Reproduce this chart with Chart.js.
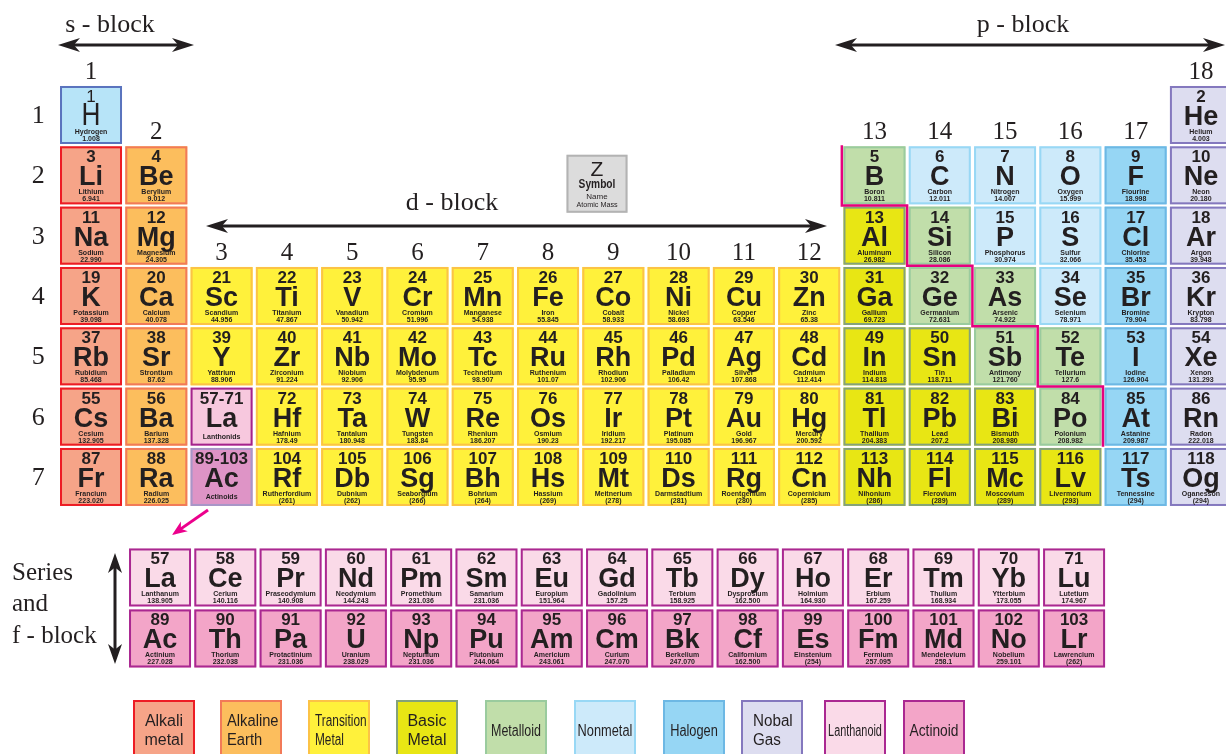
<!DOCTYPE html>
<html>
<head>
<meta charset="utf-8">
<title>Periodic Table of the Elements</title>
<script src="https://cdn.jsdelivr.net/npm/chart.js@4.4.1/dist/chart.umd.min.js"></script>
<style>
  html, body { margin:0; padding:0; background:#fff; }
  #wrap { width:1226px; height:754px; position:relative; overflow:hidden; }
</style>
</head>
<body>
<div id="wrap"><canvas id="pt" width="1226" height="754"></canvas></div>
<script>
// ── Data: main table (periods 1-7) ────────────────────────────────
const zLabels = ["1","2",
  "3","4","5","6","7","8","9","10",
  "11","12","13","14","15","16","17","18",
  "19","20","21","22","23","24","25","26","27","28","29","30","31","32","33","34","35","36",
  "37","38","39","40","41","42","43","44","45","46","47","48","49","50","51","52","53","54",
  "55","56","57-71","72","73","74","75","76","77","78","79","80","81","82","83","84","85","86",
  "87","88","89-103","104","105","106","107","108","109","110","111","112","113","114","115","116","117","118"];

const symbols = ["H","He",
  "Li","Be","B","C","N","O","F","Ne",
  "Na","Mg","Al","Si","P","S","Cl","Ar",
  "K","Ca","Sc","Ti","V","Cr","Mn","Fe","Co","Ni","Cu","Zn","Ga","Ge","As","Se","Br","Kr",
  "Rb","Sr","Y","Zr","Nb","Mo","Tc","Ru","Rh","Pd","Ag","Cd","In","Sn","Sb","Te","I","Xe",
  "Cs","Ba","La","Hf","Ta","W","Re","Os","Ir","Pt","Au","Hg","Tl","Pb","Bi","Po","At","Rn",
  "Fr","Ra","Ac","Rf","Db","Sg","Bh","Hs","Mt","Ds","Rg","Cn","Nh","Fl","Mc","Lv","Ts","Og"];

const names = ["Hydrogen","Helium",
  "Lithium","Berylium","Boron","Carbon","Nitrogen","Oxygen","Flourine","Neon",
  "Sodium","Magnesium","Aluminum","Silicon","Phosphorus","Sulfur","Chlorine","Argon",
  "Potassium","Calcium","Scandium","Titanium","Vanadium","Cromium","Manganese","Iron","Cobalt","Nickel","Copper","Zinc","Gallium","Germanium","Arsenic","Selenium","Bromine","Krypton",
  "Rubidium","Strontium","Yattrium","Zirconium","Niobium","Molybdenum","Technetium","Ruthenium","Rhodium","Palladium","Silver","Cadmium","Indium","Tin","Antimony","Tellurium","Iodine","Xenon",
  "Cesium","Barium","Lanthonids","Hafnium","Tantalum","Tungsten","Rhenium","Osmium","Iridium","Platinum","Gold","Mercury","Thallium","Lead","Bismuth","Polonium","Astanine","Radon",
  "Francium","Radium","Actinoids","Rutherfordium","Dubnium","Seaborgium","Bohrium","Hassium","Meitnerium","Darmstadtium","Roentgenium","Copernicium","Nihonium","Flerovium","Moscovium","Livermorium","Tennessine","Oganesson"];

const masses = ["1.008","4.003",
  "6.941","9.012","10.811","12.011","14.007","15.999","18.998","20.180",
  "22.990","24.305","26.982","28.086","30.974","32.066","35.453","39.948",
  "39.098","40.078","44.956","47.867","50.942","51.996","54.938","55.845","58.933","58.693","63.546","65.38","69.723","72.631","74.922","78.971","79.904","83.798",
  "85.468","87.62","88.906","91.224","92.906","95.95","98.907","101.07","102.906","106.42","107.868","112.414","114.818","118.711","121.760","127.6","126.904","131.293",
  "132.905","137.328","","178.49","180.948","183.84","186.207","190.23","192.217","195.085","196.967","200.592","204.383","207.2","208.980","208.982","209.987","222.018",
  "223.020","226.025","","(261)","(262)","(266)","(264)","(269)","(278)","(281)","(280)","(285)","(286)","(289)","(289)","(293)","(294)","(294)"];

const groups = [1,18,
  1,2,13,14,15,16,17,18,
  1,2,13,14,15,16,17,18,
  1,2,3,4,5,6,7,8,9,10,11,12,13,14,15,16,17,18,
  1,2,3,4,5,6,7,8,9,10,11,12,13,14,15,16,17,18,
  1,2,3,4,5,6,7,8,9,10,11,12,13,14,15,16,17,18,
  1,2,3,4,5,6,7,8,9,10,11,12,13,14,15,16,17,18];

const periods = [1,1,
  2,2,2,2,2,2,2,2,
  3,3,3,3,3,3,3,3,
  4,4,4,4,4,4,4,4,4,4,4,4,4,4,4,4,4,4,
  5,5,5,5,5,5,5,5,5,5,5,5,5,5,5,5,5,5,
  6,6,6,6,6,6,6,6,6,6,6,6,6,6,6,6,6,6,
  7,7,7,7,7,7,7,7,7,7,7,7,7,7,7,7,7,7];

// hy hydrogen, al alkali, ae alkaline earth, tm transition, bm basic metal,
// md metalloid, nm nonmetal, ha halogen, ng noble gas, lk/ak f-block keys
const kinds = ["hy","ng",
  "al","ae","md","nm","nm","nm","ha","ng",
  "al","ae","bm","md","nm","nm","ha","ng",
  "al","ae","tm","tm","tm","tm","tm","tm","tm","tm","tm","tm","bm","md","md","nm","ha","ng",
  "al","ae","tm","tm","tm","tm","tm","tm","tm","tm","tm","tm","bm","bm","md","md","ha","ng",
  "al","ae","lk","tm","tm","tm","tm","tm","tm","tm","tm","tm","bm","bm","bm","md","ha","ng",
  "al","ae","ak","tm","tm","tm","tm","tm","tm","tm","tm","tm","bm","bm","bm","bm","ha","ng"];

// ── Data: f-block series ──────────────────────────────────────────
const lnZ = ["57","58","59","60","61","62","63","64","65","66","67","68","69","70","71"];
const lnSymbols = ["La","Ce","Pr","Nd","Pm","Sm","Eu","Gd","Tb","Dy","Ho","Er","Tm","Yb","Lu"];
const lnNames = ["Lanthanum","Cerium","Praseodymium","Neodymium","Promethium","Samarium","Europium","Gadolinium","Terbium","Dysprosium","Holmium","Erbium","Thulium","Ytterbium","Lutetium"];
const lnMasses = ["138.905","140.116","140.908","144.243","231.036","231.036","151.964","157.25","158.925","162.500","164.930","167.259","168.934","173.055","174.967"];

const anZ = ["89","90","91","92","93","94","95","96","97","98","99","100","101","102","103"];
const anSymbols = ["Ac","Th","Pa","U","Np","Pu","Am","Cm","Bk","Cf","Es","Fm","Md","No","Lr"];
const anNames = ["Actinium","Thorium","Protactinium","Uranium","Neptunium","Plutonium","Americium","Curium","Berkelium","Californium","Einstenium","Fermium","Mendelevium","Nobelium","Lawrencium"];
const anMasses = ["227.028","232.038","231.036","238.029","231.036","244.064","243.061","247.070","247.070","162.500","(254)","257.095","258.1","259.101","(262)"];

// ── Data: axis labels and legend ─────────────────────────────────
const groupLabels  = ["1","2","3","4","5","6","7","8","9","10","11","12","13","14","15","16","17","18"];
const periodLabels = ["1","2","3","4","5","6","7"];
const legendKinds  = ["al","ae","tm","bm","md","nm","ha","ng","ln","an"];
const legendLabels = [["Alkali","metal"],["Alkaline","Earth"],["Transition","Metal"],["Basic","Metal"],["Metalloid"],["Nonmetal"],["Halogen"],["Nobal","Gas"],["Lanthanoid"],["Actinoid"]];

// ── Style / layout ───────────────────────────────────────────────
const INK = "#231F20";
const SANS = "'Liberation Sans', Arial, sans-serif";
const SERIF = "'Liberation Serif', 'Times New Roman', serif";
const PALETTE = {            // [fill, border]
  hy: ["#B7E4F8", "#5A73BE"],
  al: ["#F6A488", "#ED1C24"],
  ae: ["#FCBE5D", "#F27A58"],
  tm: ["#FFF13B", "#FCC346"],
  bm: ["#E8E614", "#84A27A"],
  md: ["#C1DEAA", "#9ACB9E"],
  nm: ["#CDEAFA", "#98D8F5"],
  ha: ["#96D6F4", "#6DB8E4"],
  ng: ["#DDDDF0", "#8478BE"],
  ln: ["#FADAE8", "#AA2891"],
  an: ["#F3A5C8", "#AA2891"],
  lk: ["#F7C8DE", "#A5238C"],
  ak: ["#DE94C6", "#A896C8"],
  key: ["#DCDCDC", "#B3B3B3"],
};
const CELL_W = 62, CELL_H = 58;
const X_MIN = -0.394, X_MAX = 18.384;   // column pitch ~65px
const Y_MIN = -0.906, Y_MAX = 11.592;   // row pitch ~60px
const F_COL0 = 2.057, LN_ROW = 8.666, AN_ROW = 9.677;
const KEY_X = 8.75, KEY_Y = 2.14;
const STAIR = [[12.5,1.5],[12.5,2.5],[13.5,2.5],[13.5,3.5],[14.5,3.5],[14.5,4.5],[15.5,4.5],[15.5,5.5],[16.5,5.5],[16.5,6.5]];
const LEGEND_LEFT = [133,220,308,396,485,574,663,741,824,903];
const LEGEND_TOP = 700;
const LEGEND_ALIGN = ["center","left","left","center","center","center","center","left","center","center"];
const LEGEND_SQUEEZE = [1,0.92,0.74,1,0.78,0.8,0.8,0.95,0.68,0.86];


// ── Drawing helpers ──────────────────────────────────────────────
function text(ctx, s, x, y, font, align = "center", squeeze = 1) {
  ctx.font = font;
  ctx.textAlign = align;
  if (squeeze !== 1) ctx.fillText(s, x, y, ctx.measureText(s).width * squeeze);
  else ctx.fillText(s, x, y);
}

function box(ctx, cx, cy, w, h, kind) {
  const [fill, stroke] = PALETTE[kind];
  ctx.fillStyle = fill;
  ctx.fillRect(cx - w / 2, cy - h / 2, w, h);
  ctx.strokeStyle = stroke;
  ctx.lineWidth = 2;
  ctx.strokeRect(cx - w / 2 + 1, cy - h / 2 + 1, w - 2, h - 2);
}

function drawCell(ctx, cx, cy, z, sym, name, mass, kind) {
  box(ctx, cx, cy, CELL_W, CELL_H, kind);
  const t = cy - CELL_H / 2;
  ctx.fillStyle = INK;
  ctx.textBaseline = "alphabetic";
  if (kind === "hy") {
    text(ctx, z, cx, t + 16, `17px ${SANS}`);
    text(ctx, sym, cx, t + 39, `32px ${SANS}`, "center", 0.82);
  } else {
    text(ctx, z, cx, t + 16, `bold 17px ${SANS}`);
    text(ctx, sym, cx, t + 39, `bold 27px ${SANS}`);
  }
  if (kind === "lk" || kind === "ak") {
    text(ctx, name, cx, t + 51, `bold 7px ${SANS}`);
  } else {
    text(ctx, name, cx, t + 48, `bold 7px ${SANS}`);
    text(ctx, mass, cx, t + 55, `bold 7px ${SANS}`);
  }
}

function head(ctx, x, y, ang, len, half) {
  ctx.save();
  ctx.translate(x, y);
  ctx.rotate(ang);
  ctx.beginPath();
  ctx.moveTo(0, 0);
  ctx.lineTo(-len, -half);
  ctx.lineTo(-len * 0.72, 0);
  ctx.lineTo(-len, half);
  ctx.closePath();
  ctx.fill();
  ctx.restore();
}

function arrow(ctx, x1, y1, x2, y2, both, color, lw = 3, len = 22, half = 7) {
  const ang = Math.atan2(y2 - y1, x2 - x1);
  const dx = Math.cos(ang) * len * 0.6, dy = Math.sin(ang) * len * 0.6;
  ctx.strokeStyle = color;
  ctx.fillStyle = color;
  ctx.lineWidth = lw;
  ctx.beginPath();
  ctx.moveTo(both ? x1 + dx : x1, both ? y1 + dy : y1);
  ctx.lineTo(x2 - dx, y2 - dy);
  ctx.stroke();
  head(ctx, x2, y2, ang, len, half);
  if (both) head(ctx, x1, y1, ang + Math.PI, len, half);
}


// ── Plugin: renders cells, labels and decorations ────────────────
const tablePlugin = {
  id: "periodicTable",
  afterDatasetsDraw(chart) {
    const ctx = chart.ctx;
    const xs = chart.scales.x, ys = chart.scales.y;
    ctx.save();
    ctx.fillStyle = INK;
    ctx.textBaseline = "alphabetic";

    // Group numbers above the topmost cell in each column
    groupLabels.forEach((lbl, gi) => {
      const g = gi + 1;
      const top = Math.min(...periods.filter((p, i) => groups[i] === g));
      const y = ys.getPixelForValue(top) - CELL_H / 2 - 7;
      ctx.fillStyle = INK;
      text(ctx, lbl, xs.getPixelForValue(g), y, `25px ${SERIF}`);
    });

    // Period numbers on the left
    periodLabels.forEach((lbl, pi) => {
      ctx.fillStyle = INK;
      text(ctx, lbl, xs.getPixelForValue(0.19), ys.getPixelForValue(pi + 1) + 8, `26px ${SERIF}`);
    });

    // Cells
    chart.data.datasets.forEach((ds, di) => {
      const meta = chart.getDatasetMeta(di);
      meta.data.forEach((pt, i) => {
        drawCell(ctx, pt.x, pt.y, ds.z[i], ds.sym[i], ds.names[i], ds.mass[i], ds.kinds[i]);
      });
    });

    // Metal / nonmetal staircase
    ctx.strokeStyle = "#E6007E";
    ctx.lineWidth = 2.5;
    ctx.beginPath();
    STAIR.forEach(([x, y], i) => {
      const px = xs.getPixelForValue(x), py = ys.getPixelForValue(y);
      i ? ctx.lineTo(px, py) : ctx.moveTo(px, py);
    });
    ctx.stroke();

    // Key cell
    const kx = xs.getPixelForValue(KEY_X), ky = ys.getPixelForValue(KEY_Y);
    box(ctx, kx, ky, 61, 58, "key");
    ctx.fillStyle = INK;
    const kt = ky - 29;
    text(ctx, "Z", kx, kt + 21, `21px ${SANS}`);
    text(ctx, "Symbol", kx, kt + 33, `bold 12px ${SANS}`, "center", 0.85);
    text(ctx, "Name", kx, kt + 44, `8px ${SANS}`);
    text(ctx, "Atomic Mass", kx, kt + 52, `8px ${SANS}`, "center", 0.9);

    // Block labels and arrows
    ctx.fillStyle = INK;
    text(ctx, "s - block", 110, 32, `26px ${SERIF}`);
    arrow(ctx, 58, 45, 194, 45, true, INK);
    text(ctx, "p - block", 1023, 32, `26px ${SERIF}`);
    arrow(ctx, 835, 45, 1225, 45, true, INK);
    ctx.fillStyle = INK;
    text(ctx, "d - block", 452, 210, `26px ${SERIF}`);
    arrow(ctx, 206, 226, 827, 226, true, INK);

    // f-block caption
    ctx.fillStyle = INK;
    text(ctx, "Series", 12, 580, `25px ${SERIF}`, "left");
    text(ctx, "and", 12, 611, `25px ${SERIF}`, "left");
    text(ctx, "f - block", 12, 643, `25px ${SERIF}`, "left");
    arrow(ctx, 115, 553, 115, 664, true, INK, 3, 20, 7);

    // Pointer from the Ac key to the series rows
    arrow(ctx, 208, 510, 172, 535, false, "#EC008C", 3, 15, 6);

    // Legend
    legendKinds.forEach((k, i) => {
      const l = LEGEND_LEFT[i];
      box(ctx, l + 31, LEGEND_TOP + 30, 62, 60, k);
      ctx.fillStyle = INK;
      const lines = legendLabels[i];
      const align = LEGEND_ALIGN[i];
      const x = align === "left" ? l + (i === 7 ? 12 : 7) : l + 31;
      const ys2 = lines.length === 2 ? [726, 745] : [736];
      lines.forEach((s, j) => text(ctx, s, x, ys2[j], `16px ${SANS}`, align, LEGEND_SQUEEZE[i]));
    });

    ctx.restore();
  }
};


// ── Chart ────────────────────────────────────────────────────────
new Chart(document.getElementById("pt"), {
  type: "scatter",
  data: {
    datasets: [
      { label: "main", data: groups.map((g, i) => ({ x: g, y: periods[i] })),
        z: zLabels, sym: symbols, names: names, mass: masses, kinds: kinds, pointRadius: 0 },
      { label: "lanthanoids", data: lnSymbols.map((s, i) => ({ x: F_COL0 + i, y: LN_ROW })),
        z: lnZ, sym: lnSymbols, names: lnNames, mass: lnMasses, kinds: lnSymbols.map(() => "ln"), pointRadius: 0 },
      { label: "actinoids", data: anSymbols.map((s, i) => ({ x: F_COL0 + i, y: AN_ROW })),
        z: anZ, sym: anSymbols, names: anNames, mass: anMasses, kinds: anSymbols.map(() => "an"), pointRadius: 0 },
    ]
  },
  options: {
    responsive: false,
    animation: false,
    events: [],
    layout: { padding: 0 },
    plugins: { legend: { display: false }, tooltip: { enabled: false } },
    scales: {
      x: { type: "linear", min: X_MIN, max: X_MAX, display: false },
      y: { type: "linear", reverse: true, min: Y_MIN, max: Y_MAX, display: false },
    }
  },
  plugins: [tablePlugin]
});
</script>
</body>
</html>
